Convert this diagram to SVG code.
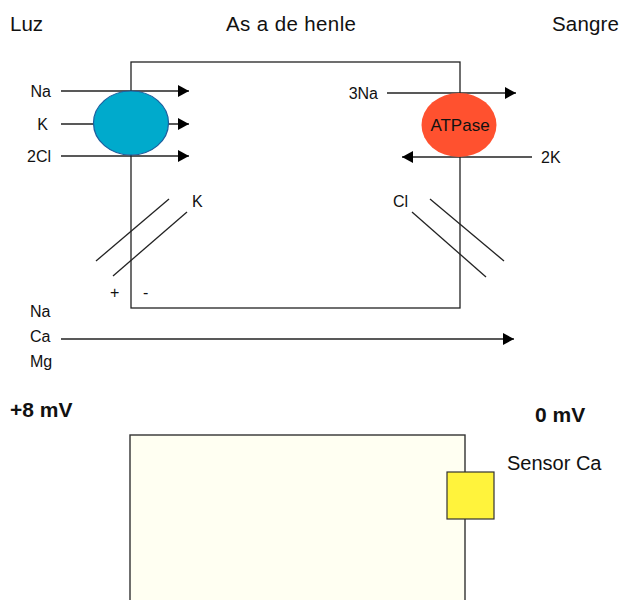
<svg xmlns="http://www.w3.org/2000/svg" width="622" height="600" viewBox="0 0 622 600">
<defs>
<style>
text{font-family:"Liberation Sans",Arial,Helvetica,sans-serif;fill:#111}
.h{font-size:20.5px}
.s{font-size:16px}
.b{font-size:21px;font-weight:bold}
.ln{stroke:#222;stroke-width:1.3;fill:none}
.arr{stroke:#222;stroke-width:1.3;fill:none;marker-end:url(#ah)}
</style>
<marker id="ah" markerUnits="userSpaceOnUse" markerWidth="12" markerHeight="12" refX="11" refY="6" orient="auto">
<path d="M0,0 L11,6 L0,12 Z" fill="#000"/>
</marker>
</defs>
<rect width="622" height="600" fill="#fff"/>

<g id="headers">
<text class="h" x="10" y="31">Luz</text>
<text class="h" x="226" y="31" textLength="130">As a de henle</text>
<text class="h" x="552" y="31" textLength="67">Sangre</text>
</g>

<g id="cell">
<rect x="131" y="62" width="329" height="246" class="ln"/>
</g>

<g id="connectors">
<line class="arr" x1="61" y1="91" x2="189" y2="91"/>
<line class="arr" x1="61" y1="124" x2="189" y2="124"/>
<line class="arr" x1="61" y1="156" x2="189" y2="156"/>
<line class="arr" x1="387" y1="93" x2="516" y2="93"/>
<line class="arr" x1="532" y1="157" x2="402" y2="157"/>
<line class="arr" x1="61" y1="339" x2="514" y2="339"/>
</g>

<g id="cotransporter">
<ellipse cx="131" cy="123" rx="37.5" ry="32" fill="#00aacc" stroke="#1c5e9e" stroke-width="1.2"/>
</g>

<g id="atpase">
<ellipse cx="459" cy="125" rx="37.5" ry="32" fill="#ff512f"/>
<text x="460" y="131" text-anchor="middle" style="font-size:17px">ATPase</text>
</g>

<g id="labels-left">
<text class="s" x="51" y="97" text-anchor="end">Na</text>
<text class="s" x="48" y="130" text-anchor="end">K</text>
<text class="s" x="51" y="162" text-anchor="end">2Cl</text>
</g>
<g id="labels-right">
<text class="s" x="378" y="99" text-anchor="end">3Na</text>
<text class="s" x="541" y="163">2K</text>
</g>

<g id="k-channel">
<line class="ln" x1="96" y1="261" x2="169" y2="199"/>
<line class="ln" x1="113" y1="276" x2="187" y2="212"/>
<text class="s" x="192" y="207">K</text>
<text class="s" x="110" y="298">+</text>
<text class="s" x="143" y="298">-</text>
</g>

<g id="cl-channel">
<line class="ln" x1="430" y1="199" x2="504" y2="261"/>
<line class="ln" x1="412" y1="212" x2="486" y2="277"/>
<text class="s" x="393" y="207">Cl</text>
</g>

<g id="paracellular">
<text class="s" x="30" y="317">Na</text>
<text class="s" x="30" y="342">Ca</text>
<text class="s" x="30" y="367">Mg</text>
</g>

<g id="voltages">
<text class="b" x="10" y="417">+8 mV</text>
<text class="b" x="535" y="422">0 mV</text>
</g>

<g id="cell2">
<rect x="130" y="435" width="335" height="200" fill="#fffff2" stroke="#333" stroke-width="1.4"/>
</g>

<g id="sensor-ca">
<rect x="447" y="472" width="47" height="47" fill="#fff33c" stroke="#333" stroke-width="1.2"/>
<text x="507" y="470" style="font-size:20px">Sensor Ca</text>
</g>
</svg>
